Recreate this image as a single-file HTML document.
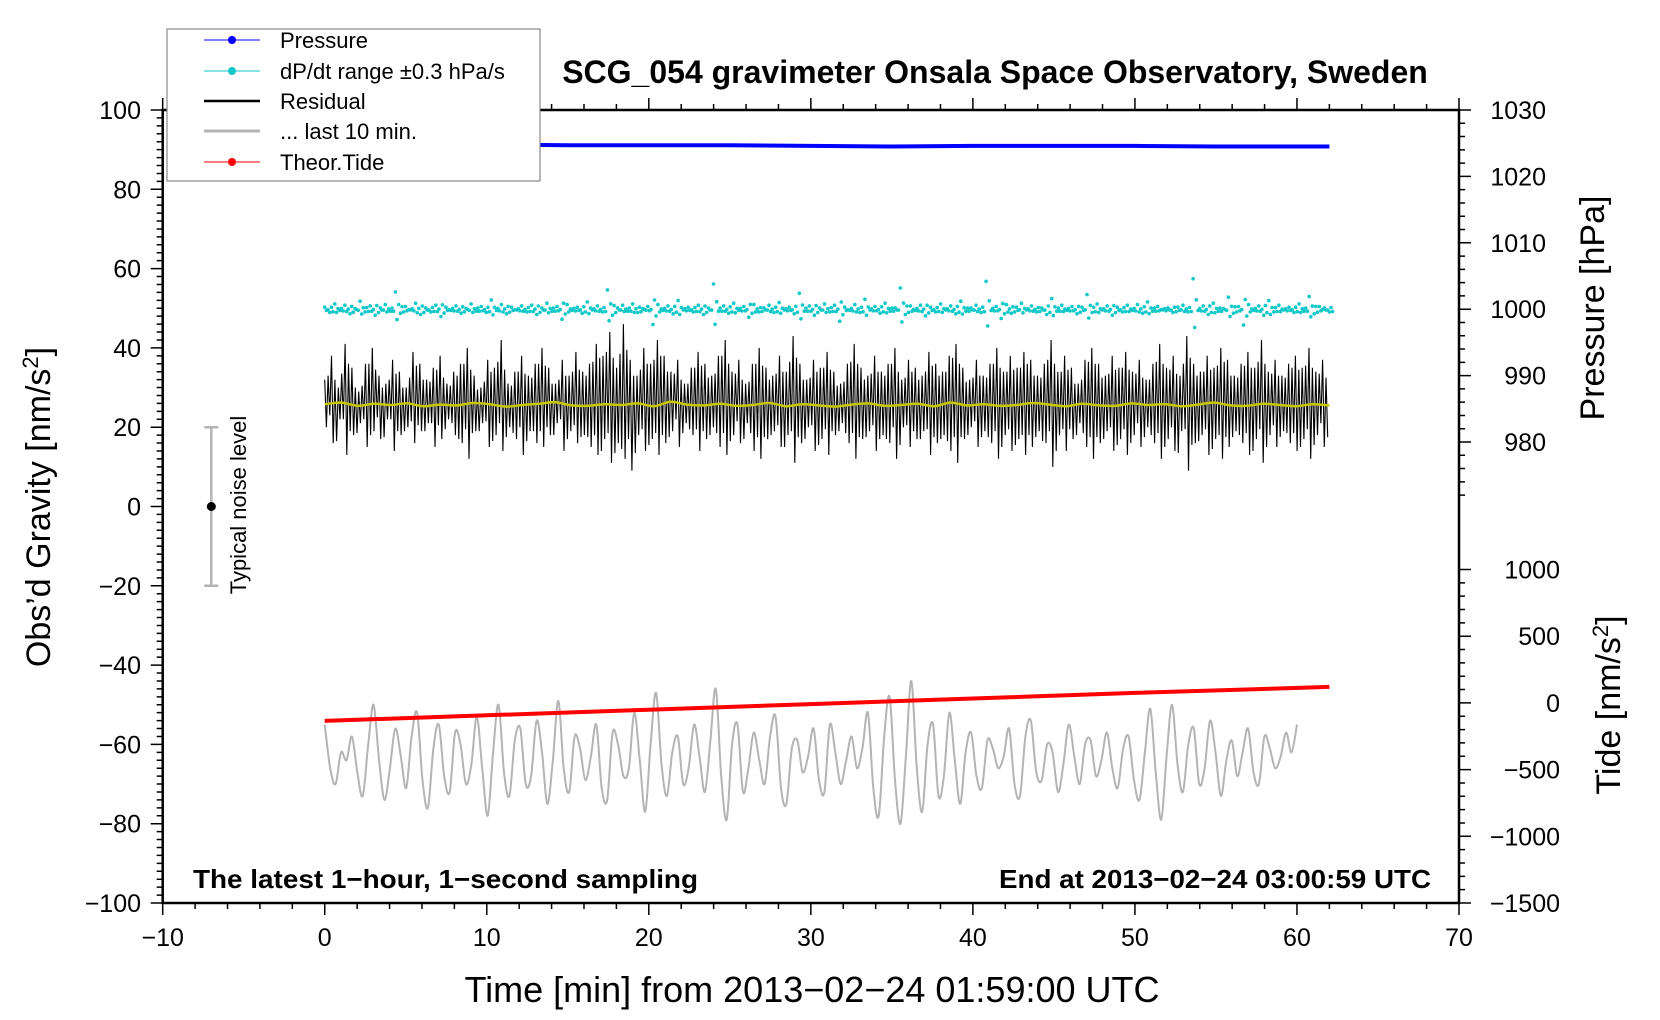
<!DOCTYPE html>
<html><head><meta charset="utf-8"><title>SCG_054 gravimeter</title>
<style>html,body{margin:0;padding:0;background:#fff}svg{display:block;font-family:"Liberation Sans",sans-serif}</style>
</head><body>
<svg id="chart" width="1660" height="1020" viewBox="0 0 1660 1020">
<g id="marks"></g><g id="axes"></g><g id="labels"></g>
</svg>
<script>
// ---- data ----
const xTicks = [-10,0,10,20,30,40,50,60,70];
const yTicks = [100,80,60,40,20,0,-20,-40,-60,-80,-100];
const pTicks = [1030,1020,1010,1000,990,980];
const tideTicks = [1000,500,0,-500,-1000,-1500];
const presT = [0,5,10,15,20,25,30,35,40,45,50,55,60,62];
const presV = [1024.8,1024.8,1024.8,1024.7,1024.7,1024.7,1024.6,1024.5,1024.6,1024.6,1024.6,1024.5,1024.5,1024.5];
const tideT = [0,10,20,30,40,50,62];
const tideV = [-135,-93,-51,-9,33,75,120];
const resHigh = [32,38,30,41,35,29,36,40,33,31,37,34,30,39,36,32,35,38,31,34,
36,40,33,30,37,35,42,31,34,38,33,36,40,35,31,37,33,39,34,36,
41,38,44,35,46,37,33,40,36,42,38,34,37,31,35,39,36,33,38,42,
34,37,31,36,40,35,33,38,34,43,36,32,37,35,39,34,31,36,41,35,
33,38,34,36,40,32,37,35,33,39,36,34,38,41,35,32,37,33,36,40,
34,38,35,39,37,33,36,42,34,38,35,31,37,40,36,33,38,35,39,34,
37,32,36,41,35,38,33,43,36,34,38,35,40,37,33,36,39,35,42,34,
37,33,36,38,35,40,34,37];
const resLow = [20,16,22,13,18,21,15,19,17,22,14,18,20,16,19,21,15,17,22,18,
16,12,19,21,15,18,14,20,17,13,19,16,15,18,21,14,19,16,18,15,
13,17,11,16,12,9,18,14,17,13,16,19,15,21,18,14,17,20,15,13,
18,16,21,14,12,17,19,15,18,11,16,20,14,17,13,18,21,16,12,17,
19,14,18,16,12,20,15,17,19,13,16,18,14,11,17,20,15,19,16,12,
18,14,17,13,15,19,16,10,18,14,17,21,15,12,16,19,14,17,13,18,
15,20,16,12,17,14,19,9,16,18,13,17,12,15,19,16,13,17,11,18,
15,19,16,14,17,12,18,15];
const resMean = [25.8,26.2,25.4,25.9,25.6,26.0,25.3,25.7,25.5,26.1,25.8,25.2,25.6,25.9,26.3,25.5,25.4,25.8,25.6,26.0,
25.3,26.4,25.7,25.5,25.9,25.4,25.6,26.1,25.3,25.8,25.5,25.2,25.7,26.0,25.4,25.6,25.9,25.3,26.2,25.5,
25.8,25.4,25.6,26.1,25.7,25.3,25.9,25.5,25.4,26.0,25.6,25.8,25.3,25.7,26.2,25.5,25.4,25.9,25.6,25.3,25.8,25.5];
const dpdt = [0.3,-0.5,0.8,-0.2,0.6,-0.7,0.1,1.2,-0.4,0.5,-0.9,0.2,0.7,-0.3,2.6,-0.6,0.4,-0.1,0.9,-0.8,
0.2,-0.4,0.6,-1.1,0.3,-0.2,0.5,-0.6,0.1,0.8,-0.3,0.4,-0.5,1.4,-0.2,0.7,-0.7,0.3,-0.1,0.5,
-0.4,0.6,-0.8,0.2,0.9,-0.3,0.4,-1.5,0.7,-0.2,0.3,-0.6,1.1,-0.1,0.5,-0.4,2.9,-0.9,0.2,0.6,
-0.3,0.8,-0.5,0.1,0.4,-2.3,0.7,-0.2,0.5,-0.7,1.3,-0.1,0.3,-0.4,0.6,-0.8,0.2,3.8,-0.3,0.5,
-0.6,0.9,-0.2,0.4,-1.2,0.7,-0.4,0.2,0.6,-0.5,1.0,-0.1,0.3,-0.7,2.4,-0.3,0.5,-0.9,0.2,0.8,
-0.4,0.6,-1.8,0.3,-0.2,0.7,-0.5,1.5,-0.1,0.4,-0.6,0.9,-0.3,0.2,3.2,-0.8,0.5,-0.2,0.6,-1.0,
0.3,-0.4,0.8,-0.1,0.5,-0.7,1.2,-0.3,0.2,0.6,-0.5,4.2,-0.2,0.4,-1.4,0.7,-0.6,0.3,0.9,-0.1,
0.5,-0.4,0.2,-0.8,1.6,-0.3,0.6,-0.2,0.4,-0.7,0.3,2.2,-0.5,0.8,-0.1,0.5,-0.9,0.3,-0.4,0.6,
-0.2,0.7,-0.6,1.1,-0.3,0.4,-0.1,0.2,-0.5,0.3,0.6,-0.4,4.6,-0.2,0.5,-0.8,0.9,-0.3,0.1,1.8,
-0.6,0.4,-2.4,0.7,-0.2,0.5,-0.9,1.3,-0.4,0.6,-0.1,0.3,-0.5,0.8,-0.3,1.9,-0.7,0.4,0.2,-0.4];
const last10 = [-55,-66,-70,-62,-64,-58,-67,-73,-60,-50,-64,-74,-66,-56,-63,-71,-58,-52,-69,-76,
-61,-55,-68,-72,-57,-60,-70,-65,-53,-66,-78,-62,-50,-67,-73,-59,-56,-70,-68,-54,
-62,-75,-64,-49,-66,-72,-58,-61,-69,-63,-55,-71,-74,-57,-60,-68,-66,-52,-64,-77,
-60,-47,-65,-73,-62,-58,-70,-66,-55,-63,-72,-59,-46,-68,-79,-60,-55,-72,-66,-57,
-64,-70,-58,-53,-71,-75,-61,-59,-67,-63,-56,-69,-72,-55,-62,-70,-64,-58,-66,-61,
-52,-71,-78,-58,-48,-69,-80,-63,-44,-66,-77,-60,-55,-73,-68,-52,-64,-75,-62,-57,
-68,-71,-59,-61,-66,-63,-56,-70,-73,-58,-54,-67,-69,-60,-62,-72,-65,-55,-63,-70,
-60,-59,-68,-64,-57,-66,-71,-61,-58,-69,-74,-62,-51,-67,-79,-63,-50,-65,-72,-60,
-56,-70,-66,-54,-62,-73,-64,-59,-68,-62,-56,-67,-70,-58,-61,-66,-63,-57,-62,-55];

// ---- scales ----
const L=162.7,R=1459,T=110,B=903;
const X = t => L + (t+10)/80*(R-L);
const Y = v => T + (100-v)/200*(B-T);
const YP = p => T + (1030-p)*6.64;
const YT = d => B - (d+1500)/500*66.7;
const NS='http://www.w3.org/2000/svg';
function mk(tag, attrs, parent, txt){const e=document.createElementNS(NS,tag);for(const k in attrs)e.setAttribute(k,attrs[k]);if(txt!==undefined)e.textContent=txt;parent.appendChild(e);return e;}
function smooth(pts){let s='M'+pts[0][0].toFixed(1)+' '+pts[0][1].toFixed(1);for(let i=0;i<pts.length-1;i++){const p0=pts[i-1]||pts[i],p1=pts[i],p2=pts[i+1],p3=pts[i+2]||p2;s+='C'+(p1[0]+(p2[0]-p0[0])/6).toFixed(1)+' '+(p1[1]+(p2[1]-p0[1])/6).toFixed(1)+' '+(p2[0]-(p3[0]-p1[0])/6).toFixed(1)+' '+(p2[1]-(p3[1]-p1[1])/6).toFixed(1)+' '+p2[0].toFixed(1)+' '+p2[1].toFixed(1);}return s;}
const marks=document.getElementById('marks'), axes=document.getElementById('axes'), labels=document.getElementById('labels');

// residual envelope
let d='';const rn=resHigh.length, rw=62/rn;
for(let i=0;i<rn;i++){const t0=i*rw;const nh=resHigh[(i+1)%rn],nl=resLow[(i+2)%rn];
d+=(i?'L':'M')+X(t0).toFixed(1)+' '+Y(resHigh[i]).toFixed(1)+'L'+X(t0+rw*0.25).toFixed(1)+' '+Y(resLow[i]).toFixed(1)
+'L'+X(t0+rw*0.5).toFixed(1)+' '+Y((nh+resHigh[i])/2-2).toFixed(1)+'L'+X(t0+rw*0.75).toFixed(1)+' '+Y((nl+resLow[i])/2+2).toFixed(1);}
let e=mk('path',{d:d,fill:'none',stroke:'#000','stroke-width':1.1},marks);


e=mk('path',{d:smooth(resMean.map((v,i)=>[X(i*62/(resMean.length-1)),Y(v)])),fill:'none',stroke:'#c8c800','stroke-width':2.5},marks);


// dP/dt dots
const cg=mk('g',{fill:'#10c8c8'},marks);


dpdt.forEach((v,i)=>{const t=i*62/(dpdt.length-1);
mk('circle',{cx:X(t).toFixed(1),cy:YP(1000+v).toFixed(1),r:1.8},cg);
mk('circle',{cx:X(t+0.1).toFixed(1),cy:YP(1000-v*0.6).toFixed(1),r:1.8},cg);
mk('circle',{cx:X(t+0.2).toFixed(1),cy:YP(1000+v*0.35-0.2).toFixed(1),r:1.8},cg);});
// pressure
d='';presT.forEach((t,i)=>{d+=(i?'L':'M')+X(t).toFixed(1)+' '+YP(presV[i]).toFixed(1);});
e=mk('path',{d:d,fill:'none',stroke:'#0000ff','stroke-width':4},marks);


// last 10 min
e=mk('path',{d:smooth(last10.map((v,i)=>[X(i*60/(last10.length-1)),Y(v)])),fill:'none',stroke:'#b4b4b4','stroke-width':2},marks);


// tide
d='';tideT.forEach((t,i)=>{d+=(i?'L':'M')+X(t).toFixed(1)+' '+YT(tideV[i]).toFixed(1);});
e=mk('path',{d:d,fill:'none',stroke:'#ff0000','stroke-width':4},marks);



// ---- axes ----
e=mk('rect',{x:L,y:T,width:R-L,height:B-T,fill:'none',stroke:'#000','stroke-width':2.5},axes);


let td='';
for(let t=-10;t<=70;t+=2){const big=t%10===0,len=big?12:6;td+=`M${X(t)} ${B}v${len}M${X(t)} ${T}v${-len}`;}
for(let v=-100;v<=100;v+=2){const big=v%20===0,len=big?12:6;td+=`M${L} ${Y(v)}h${-len}`;}
for(let p=972;p<=1030;p+=2){const big=p%10===0,len=big?12:6;td+=`M${R} ${YP(p)}h${len}`;}
for(let k=-1500;k<=1000;k+=100){const big=k%500===0,len=big?12:6;td+=`M${R} ${YT(k)}h${len}`;}
e=mk('path',{d:td,stroke:'#000','stroke-width':1.5,fill:'none'},axes);


const fs='font-size:25px';
xTicks.forEach(t=>{const l=mk('text',{x:X(t),y:946,'text-anchor':'middle',style:fs},labels,String(t).replace('-','\u2212'));

});
yTicks.forEach(v=>{const l=mk('text',{x:141,y:Y(v)+9,'text-anchor':'end',style:fs},labels,String(v).replace('-','\u2212'));

});
pTicks.forEach(p=>{const l=mk('text',{x:1546,y:YP(p)+9,'text-anchor':'end',style:fs},labels,String(p));

});
tideTicks.forEach(k=>{const l=mk('text',{x:1560,y:YT(k)+9,'text-anchor':'end',style:fs},labels,String(k).replace('-','\u2212'));

});
// noise bar
const nx=X(-7);
e=mk('path',{d:`M${nx} ${Y(20)}V${Y(-20)}M${nx-7} ${Y(20)}h14M${nx-7} ${Y(-20)}h14`,stroke:'#b4b4b4','stroke-width':2.5,fill:'none'},marks);


e=mk('circle',{cx:nx,cy:Y(0),r:4.5,fill:'#000'},marks);


</script>
<svg width="1660" height="1020" style="position:absolute;left:0;top:0">
<text x="238" y="505" transform="rotate(-90 238 505)" text-anchor="middle" font-size="22" font-family="Liberation Sans" dy="8">Typical noise level</text>
<text x="995" y="83" text-anchor="middle" font-size="32" font-weight="bold" font-family="Liberation Sans">SCG_054 gravimeter Onsala Space Observatory, Sweden</text>
<text x="193" y="888" font-size="26" font-weight="bold" font-family="Liberation Sans" textLength="505" lengthAdjust="spacingAndGlyphs">The latest 1−hour, 1−second sampling</text>
<text x="999" y="888" font-size="26" font-weight="bold" font-family="Liberation Sans" textLength="432" lengthAdjust="spacingAndGlyphs">End at 2013−02−24 03:00:59 UTC</text>
<text x="812" y="1002" text-anchor="middle" font-size="36" font-family="Liberation Sans">Time [min] from 2013−02−24 01:59:00 UTC</text>
<text transform="translate(50 507) rotate(-90)" text-anchor="middle" font-size="34" font-family="Liberation Sans">Obs’d Gravity [nm/s<tspan dy="-12" font-size="22">2</tspan><tspan dy="12">]</tspan></text>
<text transform="translate(1604 308) rotate(-90)" text-anchor="middle" font-size="34" font-family="Liberation Sans">Pressure [hPa]</text>
<text transform="translate(1620 705) rotate(-90)" text-anchor="middle" font-size="34" font-family="Liberation Sans">Tide [nm/s<tspan dy="-12" font-size="22">2</tspan><tspan dy="12">]</tspan></text>
<g font-family="Liberation Sans" font-size="22">
<rect x="167" y="29" width="373" height="152" fill="#fff" stroke="#888" stroke-width="1.2"/>
<g><line x1="204" y1="40" x2="260" y2="40" stroke="#0000ff" stroke-width="1"/><circle cx="232" cy="40" r="4" fill="#0000ff"/><text x="280" y="48">Pressure</text></g>
<g><line x1="204" y1="71" x2="260" y2="71" stroke="#10c8c8" stroke-width="1"/><circle cx="232" cy="71" r="4" fill="#10c8c8"/><text x="280" y="79">dP/dt range ±0.3 hPa/s</text></g>
<g><line x1="204" y1="101" x2="260" y2="101" stroke="#000" stroke-width="2.5"/><text x="280" y="109">Residual</text></g>
<g><line x1="204" y1="131" x2="260" y2="131" stroke="#b4b4b4" stroke-width="3"/><text x="280" y="139">... last 10 min.</text></g>
<g><line x1="204" y1="162" x2="260" y2="162" stroke="#ff0000" stroke-width="1"/><circle cx="232" cy="162" r="4" fill="#ff0000"/><text x="280" y="170">Theor.Tide</text></g>
</g>
</svg>
<style>body{position:relative;width:1660px;height:1020px;overflow:hidden}#chart{position:absolute;left:0;top:0}</style>
</body></html>
